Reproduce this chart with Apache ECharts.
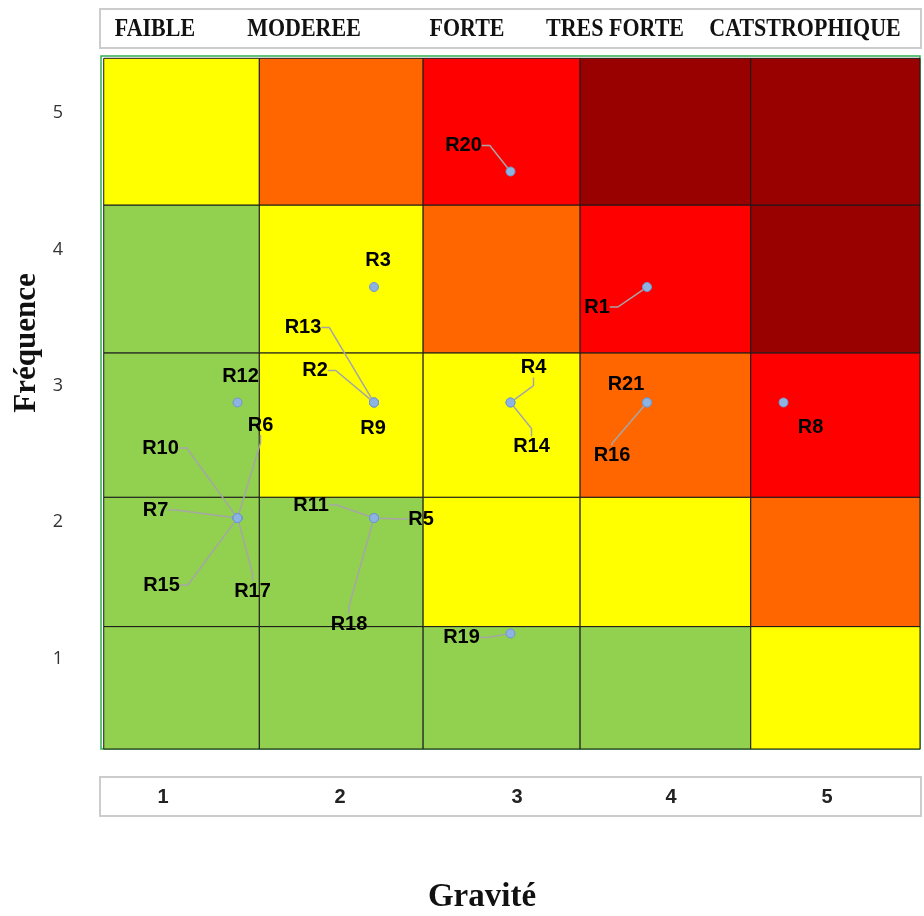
<!DOCTYPE html>
<html>
<head>
<meta charset="utf-8">
<title>Matrice des risques</title>
<script src="https://cdn.jsdelivr.net/npm/echarts@6/dist/echarts.min.js"></script>
<style>
  html, body { margin: 0; padding: 0; background: #ffffff; }
  #chart { width: 924px; height: 916px; }
</style>
</head>
<body>
<div id="chart"></div>
<script>
// ---- Data -------------------------------------------------------------
// Risks placed on the gravity (x) / frequency (y) matrix
const risks     = ['R1','R2','R3','R4','R5','R6','R7','R8','R9','R10','R11',
                   'R12','R13','R14','R15','R16','R17','R18','R19','R20','R21'];
const gravity   = [4, 2, 2, 3, 2, 1, 1, 5, 2, 1, 2, 1, 2, 3, 1, 4, 1, 2, 3, 3, 4];
const frequency = [4, 3, 4, 3, 2, 2, 2, 3, 3, 2, 2, 3, 3, 3, 2, 3, 2, 2, 1, 5, 3];

// Severity headings and level ticks
const severityNames  = ['FAIBLE', 'MODEREE', 'FORTE', 'TRES FORTE', 'CATSTROPHIQUE'];
const severityLevels = ['1', '2', '3', '4', '5'];
const frequencyTicks = [1, 2, 3, 4, 5];

// Zone boundaries of the matrix (axis units)
const gravityBands   = [0.02, 1.16, 2.36, 3.51, 4.76, 6];
const frequencyBands = [0, 1.06, 2.18, 3.43, 4.71, 5.98];

// Criticity level of each zone, bottom row (frequency 1) first, gravity 1..5
const zoneLevels = [
  [0, 0, 0, 0, 1],
  [0, 0, 1, 1, 2],
  [0, 1, 1, 2, 3],
  [0, 1, 2, 3, 4],
  [1, 2, 3, 4, 4]
];

// ---- Styling ----------------------------------------------------------
const levelColors = ['#92D050', '#FFFF00', '#FF6600', '#FF0000', '#990000'];

// label displacement from each point (px), in the same order as risks
const labelShift = [
  [-50, 20], [-59, -32], [4, -27], [23, -35], [47, 1], [23, -93], [-82, -8],
  [27, 25], [-1, 26], [-77, -70], [-63, -13], [3, -26], [-71, -75], [21, 44],
  [-76, 67], [-35, 53], [15, 73], [-25, 106], [-49, 4], [-47, -26], [-21, -18]
];
const noLeader = ['R3', 'R8', 'R9', 'R12', 'R21'];
const shortLeader = ['R16'];

const headerX = [155, 304, 467, 615, 805];
const levelX  = [163, 340, 517, 671, 827];

// ---- Build ------------------------------------------------------------
const zoneAreas = [];
for (let r = 0; r < 5; r++) {
  for (let c = 0; c < 5; c++) {
    zoneAreas.push([
      { xAxis: gravityBands[c], yAxis: frequencyBands[r],
        itemStyle: { color: levelColors[zoneLevels[r][c]] } },
      { xAxis: gravityBands[c + 1], yAxis: frequencyBands[r + 1] }
    ]);
  }
}

const points = risks.map((name, i) => ({
  name: name,
  value: [gravity[i], frequency[i]],
  labelLine: {
    show: noLeader.indexOf(name) < 0,
    length2: shortLeader.indexOf(name) < 0 ? 8 : 2,
    lineStyle: { color: '#a6a6a6', width: 1.5 }
  }
}));

function centeredText(x, y, text, font, fill, extra) {
  return Object.assign({
    type: 'text', x: x, y: y,
    style: { text: text, font: font, fill: fill,
             align: 'center', verticalAlign: 'middle',
             textAlign: 'center', textVerticalAlign: 'middle' }
  }, extra || {});
}

const graphics = [
  { type: 'rect', shape: { x: 100, y: 9, width: 821, height: 39 },
    style: { fill: '#ffffff', stroke: '#cccccc', lineWidth: 2 } },
  { type: 'rect', shape: { x: 100, y: 777, width: 821, height: 39 },
    style: { fill: '#ffffff', stroke: '#cccccc', lineWidth: 2 } },
  centeredText(27, 343, 'Fréquence', 'bold 31px "Liberation Serif"', '#111',
               { rotation: Math.PI / 2 }),
  centeredText(482, 897, 'Gravité', 'bold 33px "Liberation Serif"', '#111')
];
severityNames.forEach((t, i) => graphics.push(
  centeredText(headerX[i], 29, t, 'bold 22px "Liberation Serif"', '#111', { scaleY: 1.15 })
));
severityLevels.forEach((t, i) => graphics.push(
  centeredText(levelX[i], 797, t, 'bold 20px "Liberation Sans Narrow", "Liberation Sans"', '#222')
));

const chart = echarts.init(document.getElementById('chart'), null, { renderer: 'canvas' });
chart.setOption({
  animation: false,
  backgroundColor: '#ffffff',
  grid: {
    left: 101, right: 4, top: 56, bottom: 167,
    show: true, borderColor: '#2fb04f', borderWidth: 1.5, backgroundColor: 'transparent'
  },
  xAxis: {
    type: 'value', min: 0, max: 6,
    axisLine: { show: false }, axisTick: { show: false },
    axisLabel: { show: false }, splitLine: { show: false }
  },
  yAxis: [
    {
      type: 'value', min: 0, max: 6,
      axisLine: { show: false }, axisTick: { show: false },
      axisLabel: { show: false }, splitLine: { show: false }
    },
    {
      type: 'value', min: 0.338, max: 5.418, position: 'left',
      axisLine: { show: false }, axisTick: { show: false }, splitLine: { show: false },
      axisLabel: {
        customValues: frequencyTicks, margin: 38,
        color: '#333', fontSize: 18, fontFamily: 'Open Sans'
      }
    }
  ],
  graphic: graphics,
  series: [{
    type: 'scatter',
    xAxisIndex: 0, yAxisIndex: 0,
    data: points,
    symbol: 'circle',
    symbolSize: 9,
    z: 5,
    itemStyle: { color: '#8db3e2', borderColor: '#6e97cc', borderWidth: 1, opacity: 1 },
    label: {
      show: true, position: 'inside', formatter: '{b}',
      color: '#000', fontSize: 20, fontWeight: 'bold', fontFamily: 'Liberation Sans'
    },
    labelLayout: function (p) {
      const s = labelShift[p.dataIndex];
      return { dx: s[0], dy: s[1] };
    },
    markArea: {
      silent: true,
      z: 1,
      itemStyle: { borderColor: '#1a1a1a', borderWidth: 1, opacity: 1 },
      label: { show: false },
      data: zoneAreas
    },
    emphasis: { disabled: true }
  }]
});
</script>
</body>
</html>
